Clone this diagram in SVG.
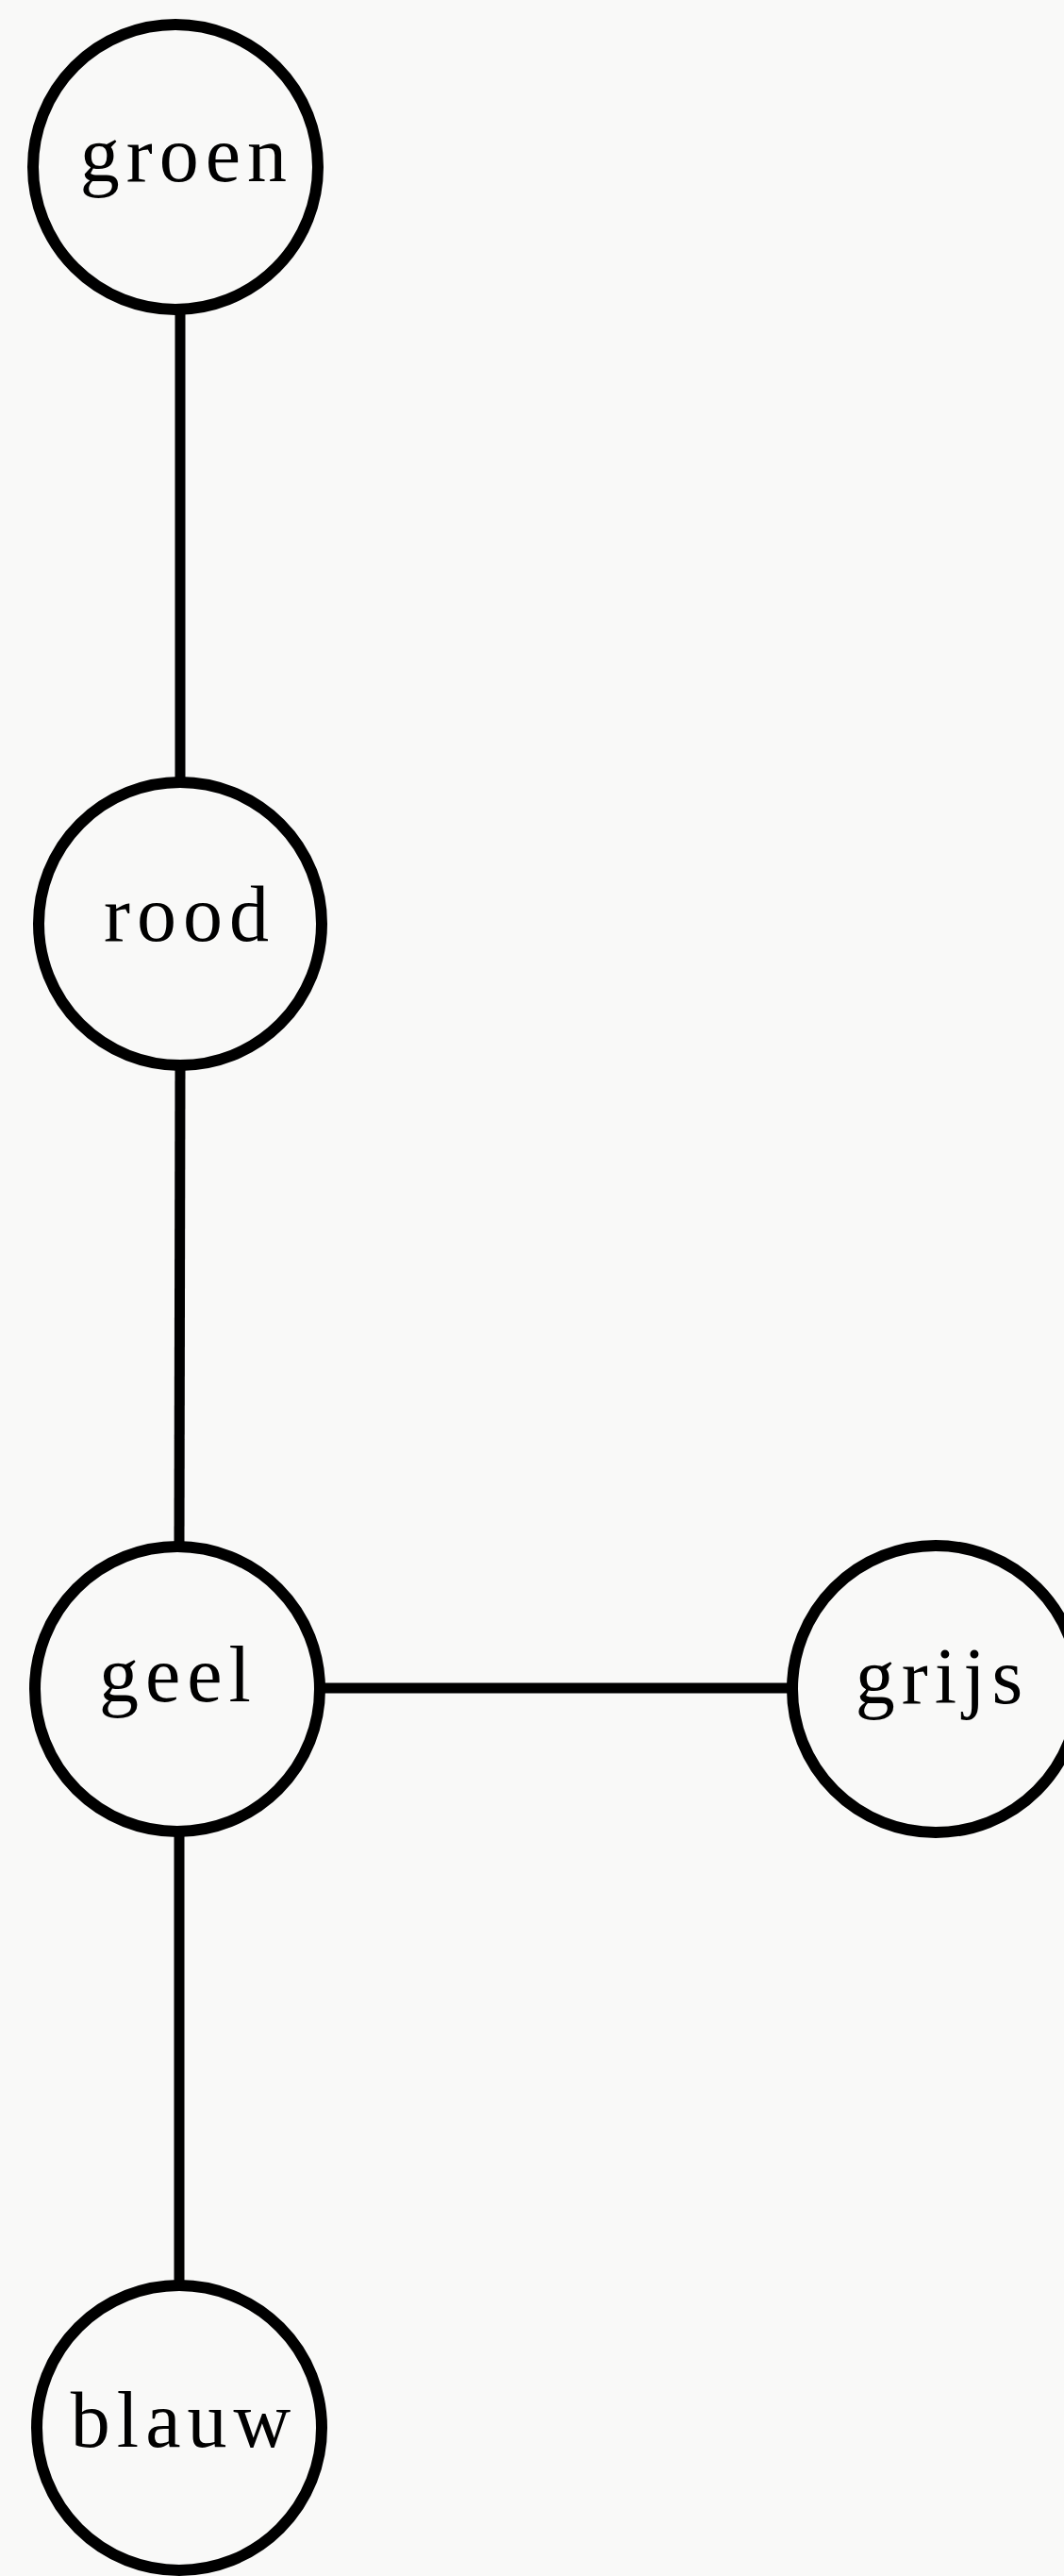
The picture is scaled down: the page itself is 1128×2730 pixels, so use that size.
<svg xmlns="http://www.w3.org/2000/svg" width="1128" height="2730" viewBox="0 0 1128 2730">
<style>
.node{fill:none;stroke:#000;stroke-width:12}
.edge{stroke:#000;stroke-width:11;fill:none}
.lbl{font-family:"Liberation Serif","DejaVu Serif",serif;font-size:84px;letter-spacing:7px;text-anchor:middle;fill:#000}
</style>
<rect width="1128" height="2730" fill="#f9f9f8"/>
<g id="connectors">
<line class="edge" x1="191" y1="330" x2="191" y2="828"/>
<line class="edge" x1="191" y1="1130" x2="190" y2="1638"/>
<line class="edge" x1="340" y1="1789" x2="838" y2="1789"/>
<line class="edge" x1="190" y1="1942" x2="190" y2="2421"/>
</g>
<g id="groen"><circle class="node" cx="186" cy="177" r="151"/><text class="lbl" x="198" y="192">groen</text></g>
<g id="rood"><circle class="node" cx="191" cy="979" r="150"/><text class="lbl" x="201" y="997">rood</text></g>
<g id="geel"><circle class="node" cx="188" cy="1790" r="151"/><text class="lbl" x="189" y="1803">geel</text></g>
<g id="grijs"><circle class="node" cx="992" cy="1790" r="152"/><text class="lbl" x="999" y="1805">grijs</text></g>
<g id="blauw"><circle class="node" cx="190" cy="2573" r="151"/><text class="lbl" x="195" y="2593">blauw</text></g>
</svg>
